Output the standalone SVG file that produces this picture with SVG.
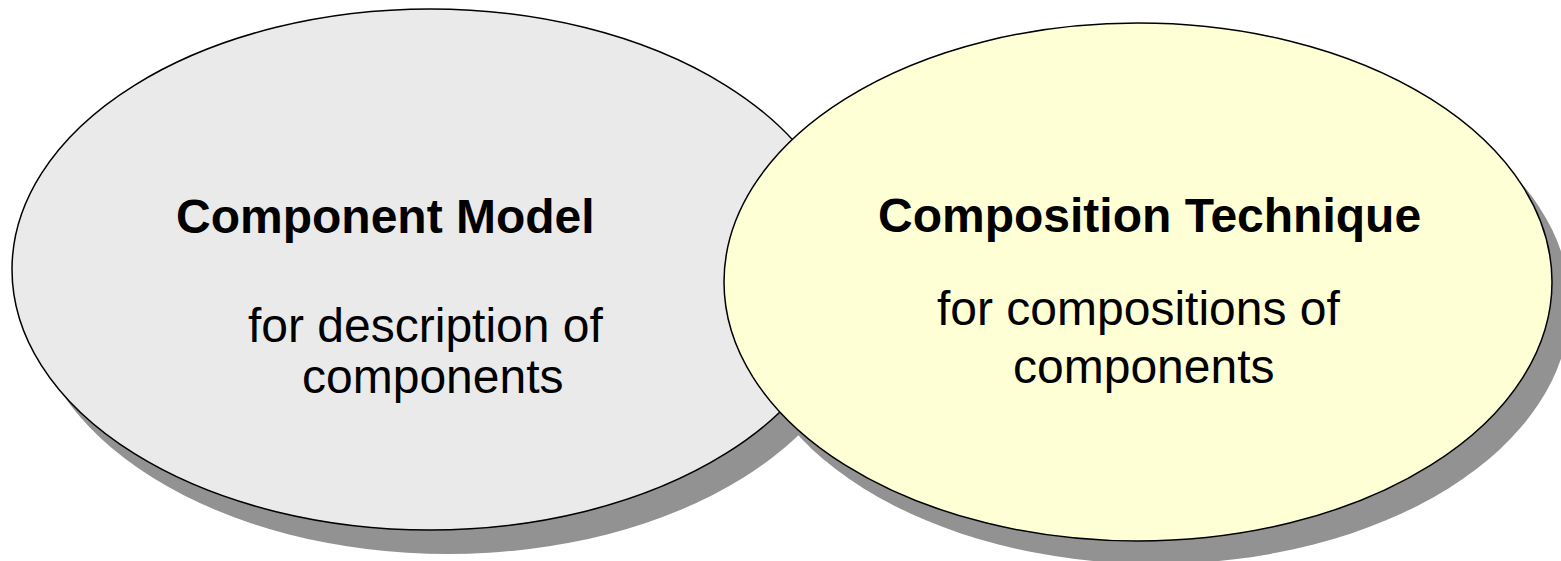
<svg xmlns="http://www.w3.org/2000/svg" width="1561" height="561" viewBox="0 0 1561 561">
  <style>
    .shadow { fill: #929292; stroke: none; }
    .shape { stroke: #000000; stroke-width: 1.5; }
    .title { font-family: "Liberation Sans", Arial, sans-serif; font-size: 48px; font-weight: bold; fill: #000000; }
    .body { font-family: "Liberation Sans", Arial, sans-serif; font-size: 48px; fill: #000000; }
  </style>
  <rect x="0" y="0" width="1561" height="561" fill="#ffffff"/>
  <g id="component-model">
    <ellipse class="shadow" cx="448" cy="293" rx="418" ry="261"/>
    <ellipse class="shape" cx="430" cy="269.5" rx="418" ry="260.5" fill="#EAEAEA"/>
  </g>
  <g id="composition-technique">
    <ellipse class="shadow" cx="1156" cy="305" rx="414" ry="259"/>
    <ellipse class="shape" cx="1138" cy="282" rx="414" ry="259" fill="#FFFFD6"/>
  </g>
  <g id="connectors"></g>
  <g id="labels">
    <text class="title" x="176" y="233">Component Model</text>
    <text class="body" x="248" y="342">for description of</text>
    <text class="body" x="302" y="393">components</text>
    <text class="title" x="878" y="232">Composition Technique</text>
    <text class="body" x="937" y="325">for compositions of</text>
    <text class="body" x="1013" y="383">components</text>
  </g>
</svg>
